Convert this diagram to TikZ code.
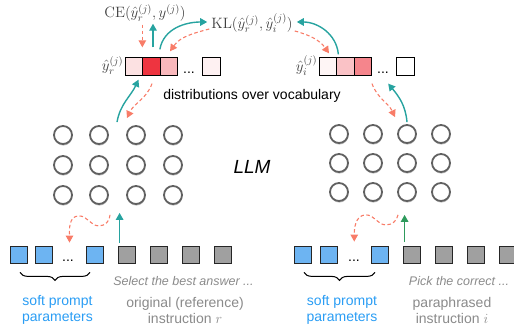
\RequirePackage{fix-cm}
\documentclass[tikz,border=0pt]{standalone}
\usepackage[no-math]{fontspec}
\setsansfont{Liberation Sans}
\usetikzlibrary{arrows.meta,calc,shadows,decorations.pathreplacing}
\definecolor{fwdColor}{HTML}{27A3A0}
\definecolor{gradColor}{HTML}{2E9A5C}
\definecolor{backColor}{HTML}{F87C68}
\definecolor{softColor}{HTML}{6DB4F2}
\definecolor{softText}{HTML}{2A9DF4}
\definecolor{tokColor}{HTML}{A0A0A0}
\definecolor{instrText}{HTML}{8A8A8A}
\definecolor{probColor}{HTML}{EE3440}
\tikzset{
	tok/.style={draw=black!85, line width=0.8pt, minimum size=17pt, inner sep=0pt, fill=tokColor},
	soft/.style={tok, fill=softColor},
	cell/.style={draw=black, line width=0.8pt, minimum size=17.5pt, inner sep=0pt},
	unit/.style={circle, draw=black!62, line width=1.8pt, fill=white, minimum size=18pt, inner sep=0pt,
		drop shadow={shadow xshift=0.4pt, shadow yshift=-1.6pt, opacity=0.5}},
	fwd/.style={-{Triangle[length=7pt,width=7.5pt]}, draw=fwdColor, line width=1.4pt},
	back/.style={-{Triangle[length=7pt,width=7.5pt]}, draw=backColor, line width=1.1pt, dash pattern=on 3.5pt off 2.5pt},
	lab/.style={font=\sffamily\fontsize{14}{16}\selectfont, align=center, inner sep=0pt},
	mth/.style={font=\fontsize{15}{17}\selectfont, text=black!75, inner sep=0pt},
	brc/.style={decorate, decoration={brace, mirror, amplitude=8pt}, line width=1pt}
}
\newcommand{\yhr}{\hat{y}_r^{(j)}}
\newcommand{\yhi}{\hat{y}_i^{(j)}}

\begin{document}
\begin{tikzpicture}[x=1pt,y=1pt]
	\useasboundingbox (0,0) rectangle (514,334);
	% input sequences
	\foreach \n/\x in {1/18.5,2/44,3/95} \node[soft] (rp\n) at (\x,79) {};
	\foreach \n/\x in {1/126.5,2/158.5,3/190.5,4/222.5} \node[tok] (rt\n) at (\x,79) {};
	\foreach \n/\x in {1/303,2/328.5,3/380} \node[soft] (ip\n) at (\x,79) {};
	\foreach \n/\x in {1/412,2/444,3/476,4/508} \node[tok] (it\n) at (\x,79) {};
	\node[lab, anchor=base] (rdots) at (68,72) {...};
	\node[lab, anchor=base] (idots) at (354,72) {...};
	
	\draw[brc] ($(rp1.south)+(1.5,-8.5)$) -- ($(rp3.south)+(-5,-8.5)$);
	\draw[brc] ($(ip1.south)+(1,-8.5)$) -- ($(ip3.south)+(-5,-8.5)$);
	
	\node[lab, font=\sffamily\itshape\fontsize{12.5}{14}\selectfont, text=instrText] (rex) at (183.5,53) {Select the best answer ...};
	\node[lab, font=\sffamily\itshape\fontsize{12.5}{14}\selectfont, text=instrText] (iex) at (459,53) {Pick the correct ...};
	\node[lab, text=softText] (rsoft) at (57.5,24) {soft prompt\\parameters};
	\node[lab, text=instrText] (rins) at (185,24) {original (reference)\\instruction $r$};
	\node[lab, text=softText] (isoft) at (342,24) {soft prompt\\parameters};
	\node[lab, text=instrText] (iins) at (452,24) {paraphrased\\instruction $i$};
	
	% LLM units
	\foreach \r/\y in {1/199,2/169,3/139}
		\foreach \c/\x in {1/63,2/99,3/136,4/173}
			\node[unit] (rn\r\c) at (\x,\y) {};
	\foreach \r/\y in {1/200,2/171,3/142}
		\foreach \c/\x in {1/339,2/373,3/407,4/441}
			\node[unit] (in\r\c) at (\x,\y) {};
	\node[font=\sffamily\itshape\fontsize{19}{21}\selectfont] (llm) at (252,167) {LLM};
	
	% output distributions
	\foreach \n/\x/\p in {1/134/15,2/151.5/100,3/169/35,4/211.5/7}
		\node[cell, fill=probColor!\p] (rd\n) at (\x,267.5) {};
	\foreach \n/\x/\p in {1/328/5,2/345.5/30,3/363/60,4/405.5/0}
		\node[cell, fill=probColor!\p] (id\n) at (\x,267.5) {};
	\node[lab, anchor=base] at (189,260) {...};
	\node[lab, anchor=base] at (383,260) {...};
	\node[mth, anchor=east] (yr) at ($(rd1.west)+(-1.5,1)$) {$\yhr$};
	\node[mth, anchor=east] (yi) at ($(id1.west)+(-1.5,1)$) {$\yhi$};
	\node[lab] (dist) at (252,238) {distributions over vocabulary};
	
	\node[mth] (ce) at (145,321) {$\mathrm{CE}(\yhr, y^{(j)})$};
	\node[mth] (kl) at (252,311) {$\mathrm{KL}(\yhr, \yhi)$};
	
	% losses
	\draw[back] ($(ce.south -| rd2.west)+(0,-3)$) -- ($(rd2.north west)+(0,10)$);
	\draw[fwd] ($(rd2.north)+(1.5,10)$) -- ($(ce.south -| rd2.north)+(1.5,-2)$);
	\draw[fwd] ($(rd3.north west)+(0,8)$) to[out=80,in=180] ($(kl.west)+(-4,1)$);
	\draw[back] ($(kl.west)+(-2,-6)$) to[out=195,in=55] ($(rd3.north)+(1,6)$);
	\draw[back] ($(kl.east)+(2,-8)$) to[out=-15,in=125] ($(id1.north)+(1,4)$);
	\draw[fwd] ($(id2.north west)+(2,3)$) to[out=95,in=0] ($(kl.east)+(4,1)$);
	
	% LLM <-> distributions
	\draw[fwd] ($(rn13.north)+(-19,3)$) to[out=80,in=-115] ($(rd2.south)+(-13,-4)$);
	\draw[back] ($(rd2.south)+(0.5,-8)$) to[out=-110,in=65] ($(rn13.north)+(-9,7)$);
	\draw[back] ($(id3.south)+(9,-8)$) to[out=-70,in=115] ($(in13.north)+(-12,7)$);
	\draw[fwd] ($(in13.north)+(0,2)$) to[out=95,in=-50] ($(id3.south east)+(16,-8)$);
	
	% inputs <-> LLM
	\draw[fwd] ($(rt1.north west)+(2,3)$) -- ($(rn33.south -| rt1.north west)+(2,-8)$);
	\draw[back] ($(rn32.south)+(11,-10)$) to[out=-90,in=0] ++(-11,-11) to[out=180,in=0] ++(-20,10)
		to[out=180,in=90] ($(rp2.north east)!.5!(rp3.north west)+(0,3.5)$);
	\draw[fwd, draw=gradColor] ($(it1.north west)+(1.5,4)$) -- ($(in33.south -| it1.north west)+(1.5,-13)$);
	\draw[back] ($(in33.south)+(-9,-13)$) to[out=-100,in=0] ++(-12,-10) to[out=180,in=0] ++(-20,10)
		to[out=180,in=90] ($(ip2.north east)!.5!(ip3.north west)+(0,4.5)$);
\end{tikzpicture}
\end{document}
